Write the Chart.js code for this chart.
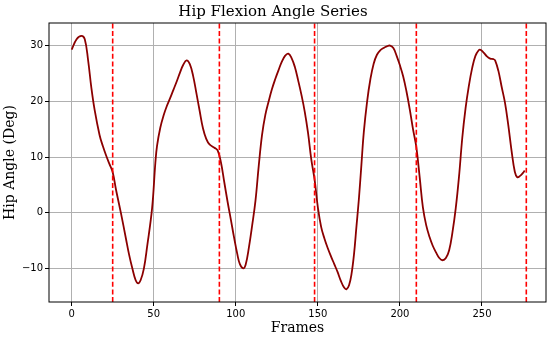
<!DOCTYPE html>
<html>
<head>
<meta charset="utf-8">
<title>Hip Flexion Angle Series</title>
<script src="https://cdn.jsdelivr.net/npm/chart.js@4/dist/chart.umd.min.js"></script>
<style>
    body { margin: 0; background: #fff; }
    #myChart { display: block; }
</style>
</head>
<body>
<canvas id="myChart" width="550" height="337"></canvas>
<script>
// DATA
const frames = [0, 3, 6, 8, 10, 12, 14, 17, 19, 21, 23, 25, 27, 30, 33, 35, 37, 39, 40.5, 42, 44, 46, 49, 51, 52, 54, 56, 58, 60, 62, 64, 66, 68, 70, 72, 74, 76, 78, 80, 82, 84, 87, 89, 91, 93, 95, 97, 99, 101, 102.5, 104.5, 106, 108, 110, 112, 114, 116, 118, 120, 122, 124, 126, 128, 130, 132, 134, 136, 138, 140, 142, 144, 146, 148, 150, 152, 154, 156, 158, 160, 162, 164, 166, 167.5, 169, 170.5, 172, 173.5, 175, 176.5, 178, 180, 182, 184, 186, 188, 190, 192, 194, 196, 198, 200, 202, 204, 206, 208, 210, 212, 214, 216, 218, 220, 222, 224, 226, 228, 230, 232, 234, 236, 238, 240, 242, 244, 246, 248, 249, 251, 253, 255, 257, 258, 260, 262, 264, 266, 268, 270, 271.5, 273, 275, 276];
const hipAngle = [29.3, 31.2, 31.8, 31.2, 27.5, 22.5, 18.5, 14, 12, 10.3, 8.8, 7.3, 4.2, 0, -4.5, -7.5, -10, -12.1, -12.65, -12.1, -10, -6, 0.8, 9, 12, 15.3, 17.5, 19.2, 20.6, 22.1, 23.6, 25.2, 26.6, 27.4, 26.7, 24.6, 21.5, 18.3, 15.2, 13.3, 12.3, 11.7, 11.2, 9, 5.5, 2, -1.2, -4.5, -7.5, -9.2, -9.95, -9.3, -6.2, -2.2, 2.2, 8.5, 14, 17.6, 20, 22.2, 24, 25.6, 27.1, 28.2, 28.6, 27.8, 26.2, 23.8, 21.2, 18.2, 14.4, 9.6, 6, 1, -2.5, -4.6, -6.3, -7.8, -9.2, -10.6, -12.2, -13.4, -13.7, -13, -11, -7.5, -2.5, 2.5, 8.5, 14.5, 20, 24, 26.8, 28.4, 29.2, 29.6, 29.9, 30.05, 29.6, 28.2, 26.5, 24.5, 21.8, 18.6, 15, 11.8, 6.5, 1, -2.2, -4.3, -5.9, -7.1, -8.1, -8.5, -8.1, -6.7, -3.5, 0.8, 6.5, 13.5, 18.8, 22.8, 26, 28.2, 29.2, 29.3, 28.8, 28.1, 27.7, 27.6, 27.4, 25.5, 22.6, 19.8, 15.8, 11.2, 7.4, 6.4, 6.6, 7.2, 7.6];
const eventFrames = [25, 90, 148, 210, 277];
const xTicks = [0, 50, 100, 150, 200, 250];
const yTicks = [-10, 0, 10, 20, 30];
// DATA

// AXIS LIMITS
const xMin = -13.8, xMax = 289;
const yMin = -16, yMax = 34.1;

// FRAME AROUND PLOT AREA
const framePlugin = {
    id: 'frame',
    afterDraw(chart) {
        const a = chart.chartArea;
        const ctx = chart.ctx;
        ctx.save();
        ctx.strokeStyle = '#000';
        ctx.lineWidth = 1;
        ctx.strokeRect(a.left, a.top, a.right - a.left, a.bottom - a.top);
        ctx.restore();
    }
};

// DATASETS
const datasets = [{
    label: 'Hip Angle',
    data: frames.map((f, i) => ({ x: f, y: hipAngle[i] })),
    borderColor: '#8b0000',
    borderWidth: 1.8,
    pointRadius: 0,
    tension: 0.4,
    order: 2
}];
eventFrames.forEach(function(f) {
    datasets.push({
        label: 'Event',
        data: [{ x: f, y: yMin }, { x: f, y: yMax }],
        borderColor: '#ff0000',
        borderWidth: 1.6,
        borderDash: [5, 2.6],
        pointRadius: 0,
        order: 1
    });
});

function minusSign(v) {
    return String(v).replace('-', '\u2212');
}

const tickFont = { family: 'DejaVu Sans', size: 10 };
const titleFont = { family: 'DejaVu Serif', size: 14 };

const ctx = document.getElementById('myChart').getContext('2d');
new Chart(ctx, {
    type: 'line',
    data: { datasets: datasets },
    plugins: [framePlugin],
    options: {
        responsive: false,
        animation: false,
        layout: { padding: { left: 0, right: 4, top: 0, bottom: 0 } },
        plugins: {
            legend: { display: false },
            tooltip: { enabled: false },
            title: {
                display: true,
                text: 'Hip Flexion Angle Series',
                color: '#000',
                font: { family: 'DejaVu Serif', size: 15, weight: 'normal' },
                padding: { top: 3, bottom: 2 }
            }
        },
        scales: {
            x: {
                type: 'linear',
                min: xMin,
                max: xMax,
                afterBuildTicks: function(axis) {
                    axis.ticks = xTicks.map(v => ({ value: v }));
                },
                afterFit: function(axis) { axis.height = 35; },
                grid: { color: '#b0b0b0', lineWidth: 1, tickColor: '#000', tickLength: 4 },
                border: { display: false },
                ticks: { color: '#000', font: tickFont, padding: 2, maxRotation: 0, callback: minusSign },
                title: { display: true, text: 'Frames', color: '#000', font: titleFont, padding: { top: 0, bottom: 0 } }
            },
            y: {
                type: 'linear',
                min: yMin,
                max: yMax,
                afterBuildTicks: function(axis) {
                    axis.ticks = yTicks.map(v => ({ value: v }));
                },
                afterFit: function(axis) { axis.width = 49; },
                grid: { color: '#b0b0b0', lineWidth: 1, tickColor: '#000', tickLength: 4 },
                border: { display: false },
                ticks: { color: '#000', font: tickFont, padding: 2, callback: minusSign },
                title: { display: true, text: 'Hip Angle (Deg)', color: '#000', font: titleFont, padding: { top: 2, bottom: 0 } }
            }
        }
    }
});
</script>
</body>
</html>
